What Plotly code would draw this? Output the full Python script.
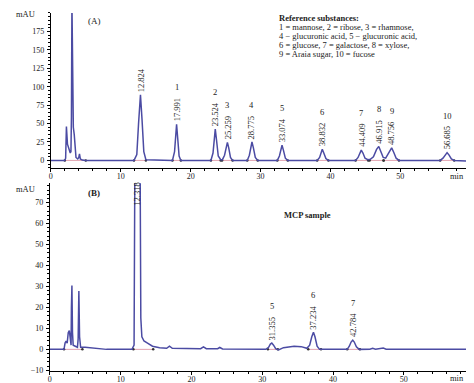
import plotly.graph_objects as go

# ---------------- data ----------------
# Panel A: reference substances chromatogram (time in min, signal in mAU)
time_a = [0, 2.0, 2.12, 2.23, 2.38, 2.5, 2.65, 2.78, 2.88, 2.95, 3.02, 3.12, 3.22, 3.35, 3.45, 3.6, 3.85, 4.0, 4.1, 4.22, 4.5, 5.0,
          11.9, 12.3, 12.55, 12.824, 13.05, 13.3, 13.6,
          17.4, 17.7, 17.85, 17.991, 18.15, 18.35, 18.6,
          22.9, 23.2, 23.38, 23.524, 23.7, 23.95, 24.3,
          24.55, 24.85, 25.05, 25.259, 25.45, 25.7, 26.0,
          28.1, 28.4, 28.6, 28.775, 28.98, 29.25, 29.6,
          32.4, 32.7, 32.9, 33.074, 33.27, 33.55, 33.9,
          38.1, 38.45, 38.65, 38.832, 39.05, 39.35, 39.7,
          43.6, 43.95, 44.2, 44.409, 44.65, 44.95, 45.35,
          45.7, 46.15, 46.6, 46.915, 47.2, 47.55,
          47.9, 48.35, 48.756, 49.05, 49.4, 49.8,
          55.7, 56.1, 56.45, 56.685, 56.95, 57.3, 57.7, 60.0]
mau_a = [0, 0, 3, 46, 22, 19, 14, 10, 12, 60, 215, 150, 45, 35, 14, 4, 2, 4, 9, 2, 0.5, 0,
         0, 8, 50, 89, 55, 12, 1,
         0, 12, 32, 49, 30, 6, 0,
         0, 10, 30, 42.5, 28, 6, 1,
         1, 7, 18, 24.5, 17, 4, 0,
         0, 7, 18, 25, 17, 4, 0,
         0, 6, 15, 20.5, 14, 3, 0,
         0, 4, 11, 15, 10, 2.5, 0,
         0, 4, 10.5, 14, 10, 3, 1,
         1.5, 5, 15, 19, 13, 4,
         3, 11, 17, 11, 3, 0,
         0, 3, 8, 10.5, 7.5, 2, 0, -1]

# Panel B: MCP sample chromatogram
time_b = [0, 2.0, 2.15, 2.3, 2.45, 2.6, 2.75, 2.9, 3.0, 3.05, 3.12, 3.2, 3.3, 3.6, 3.9, 4.0, 4.1, 4.2, 4.35, 5.0, 5.5, 6.5, 8.0,
          11.6, 11.9, 12.05, 12.318, 12.6, 12.75, 12.85, 13.0, 13.3, 13.8, 14.5, 15.5,
          16.5, 16.9, 17.3, 21.3, 21.7, 22.1, 23.7, 24.0, 24.4,
          30.5, 30.9, 31.15, 31.355, 31.6, 31.9, 32.3, 33.0, 34.5, 35.5, 36.3,
          36.7, 37.0, 37.234, 37.45, 37.75, 38.1,
          42.0, 42.3, 42.55, 42.784, 43.0, 43.3, 43.7,
          45.2, 45.6, 46.0, 46.7, 47.1, 47.5, 48.0, 60.0]
mau_b = [0, 0, 3, 4, 3, 8, 9, 3, 2, 20, 30.5, 8, 2, 1.5, 1, 5, 27.8, 6, 1, 1, 0.8, 0.3, 0,
         0, 2, 120, 260, 200, 90, 15, 6, 4, 3, 1.5, 0.8,
         0.5, 1.5, 0.5, 0.3, 1.2, 0.3, 0.3, 0.9, 0.2,
         0, 1, 2.5, 3, 2, 0.3, -0.3, 0.8, 1.5, 1.3, 0.5,
         2, 6, 8.2, 6, 1.5, 0,
         0, 1.5, 3.5, 4.4, 3.5, 1.2, 0,
         0.1, 0.5, 0.1, 0.3, 0.6, 0.1, 0, 0]

# Labelled peaks: retention time, height, peak number
rt_a = [12.824, 17.991, 23.524, 25.259, 28.775, 33.074, 38.832, 44.409, 46.915, 48.756, 56.685]
ht_a = [89, 49, 42.5, 24.5, 25, 20.5, 15, 14, 19, 17, 10.5]
num_a = ["", "1", "2", "3", "4", "5", "6", "7", "8", "9", "10"]

rt_b = [31.355, 37.234, 42.784]
ht_b = [3, 8.2, 4.4]
num_b = ["5", "6", "7"]
rt_b_main = 12.318

# Integration baselines (start, end) under each peak
base_a = [(2.0, 5.0), (11.9, 13.6), (17.4, 18.6), (22.9, 24.3), (24.5, 26.0), (28.1, 29.6), (32.4, 33.9),
          (38.1, 39.7), (43.6, 45.4), (45.6, 47.6), (47.6, 49.8), (55.7, 57.7)]
base_b = [(2.0, 4.6), (11.8, 14.6), (30.8, 32.2), (36.5, 38.3), (42.0, 43.8)]

legend_lines = ["1 = mannose, 2 = ribose, 3 = rhamnose,",
                "4 \u2212 glucuronic acid, 5 \u2212 glucuronic acid,",
                "6 = glucose, 7 = galactose, 8 = xylose,",
                "9 = Araia sugar, 10 = fucose"]

# ---------------- figure ----------------
W, H = 474, 383
LINE = "#4b4ba3"
PINK = "#d98a9a"
FONT = "Liberation Serif"
TXT = "#222222"

def px(x):
    return x / W

def py(y):
    return 1 - y / H

fig = go.Figure()

def add_baselines(segs, xa, ya):
    xs, ys = [], []
    for s, e in segs:
        xs += [s, e, None]
        ys += [0, 0, None]
    fig.add_trace(go.Scatter(x=xs, y=ys, mode="lines+markers", xaxis=xa, yaxis=ya,
                             line=dict(color=PINK, width=0.8),
                             marker=dict(color="#333333", size=2.5, symbol="circle"),
                             hoverinfo="skip", showlegend=False))

add_baselines(base_a, "x", "y")
add_baselines(base_b, "x2", "y2")

fig.add_trace(go.Scatter(x=time_a, y=mau_a, mode="lines", xaxis="x", yaxis="y",
                         line=dict(color=LINE, width=1.5), showlegend=False))
fig.add_trace(go.Scatter(x=time_b, y=mau_b, mode="lines", xaxis="x2", yaxis="y2",
                         line=dict(color=LINE, width=1.5), showlegend=False))

tickfont = dict(family=FONT, size=8, color=TXT)
common_x = dict(range=[0, 60], showline=True, linecolor="black", linewidth=1, showgrid=False, zeroline=False,
                ticks="outside", ticklen=3, tickcolor="black", tickvals=[0, 10, 20, 30, 40, 50],
                minor=dict(ticks="outside", ticklen=2, tickcolor="black", dtick=2, tick0=0),
                tickfont=tickfont, ticklabelstandoff=-3)
common_y = dict(showline=True, linecolor="black", linewidth=1, showgrid=False, zeroline=False,
                ticks="outside", ticklen=3, tickcolor="black", tickfont=tickfont, ticklabelstandoff=1)

fig.update_layout(
    width=W, height=H, margin=dict(l=0, r=0, t=0, b=0),
    paper_bgcolor="white", plot_bgcolor="white",
    xaxis=dict(domain=[px(41), px(462.2)], anchor="y", **common_x),
    yaxis=dict(domain=[py(162), py(5)], anchor="x", range=[-10.7, 200], tickvals=[0, 25, 50, 75, 100, 125, 150, 175],
               minor=dict(ticks="outside", ticklen=2, tickcolor="black", dtick=5, tick0=0), **common_y),
    xaxis2=dict(domain=[px(40), px(466.6)], anchor="y2", **common_x),
    yaxis2=dict(domain=[py(367), py(177)], anchor="x2", range=[-10.4, 79.3], tickvals=[-10, 0, 10, 20, 30, 40, 50, 60, 70],
                minor=dict(ticks="outside", ticklen=2, tickcolor="black", dtick=2, tick0=0), **common_y),
    showlegend=False,
)

ann = []
lab_font = dict(family=FONT, size=8.5, color=TXT)

def peak_labels(rts, hts, nums, xr, yr):
    for t, h, n in zip(rts, hts, nums):
        ann.append(dict(x=t, y=h, xref=xr, yref=yr, text=f"{t:.3f}", textangle=-90, showarrow=False,
                        xanchor="center", yanchor="bottom", yshift=2, font=lab_font, borderpad=0))
        if n:
            ann.append(dict(x=t, y=h, xref=xr, yref=yr, text=n, showarrow=False,
                            xanchor="center", yanchor="bottom", yshift=31, font=lab_font, borderpad=0))

peak_labels(rt_a, ht_a, num_a, "x", "y")
peak_labels(rt_b, ht_b, num_b, "x2", "y2")
ann.append(dict(x=rt_b_main, y=79.3, xref="x2", yref="y2", text=f"{rt_b_main:.3f}", textangle=-90, showarrow=False,
                xanchor="center", yanchor="top", yshift=1, font=lab_font, borderpad=0))

def ptext(text, x, y, size=8.5, bold=False, xanchor="left", yanchor="middle"):
    t = f"<b>{text}</b>" if bold else text
    ann.append(dict(x=px(x), y=py(y), xref="paper", yref="paper", text=t, showarrow=False,
                    xanchor=xanchor, yanchor=yanchor, font=dict(family=FONT, size=size, color=TXT), borderpad=0))

ptext("mAU", 5, 6, size=8.5)
ptext("mAU", 5, 183, size=8.5)
ptext("(A)", 77, 13, size=9)
ptext("(B)", 77, 187, size=9, bold=True)
ptext("min", 449, 170, size=8.5, xanchor="center")
ptext("min", 449, 374, size=8.5, xanchor="center")
ptext("MCP sample", 274, 209, size=8.5, bold=True)
ptext("Reference substances:", 269, 10, size=8.5, bold=True)
for i, line in enumerate(legend_lines):
    ptext(line, 269, 19.3 + 9.2 * i, size=8.5)

fig.update_layout(annotations=ann)
fig.write_html("out.html")
